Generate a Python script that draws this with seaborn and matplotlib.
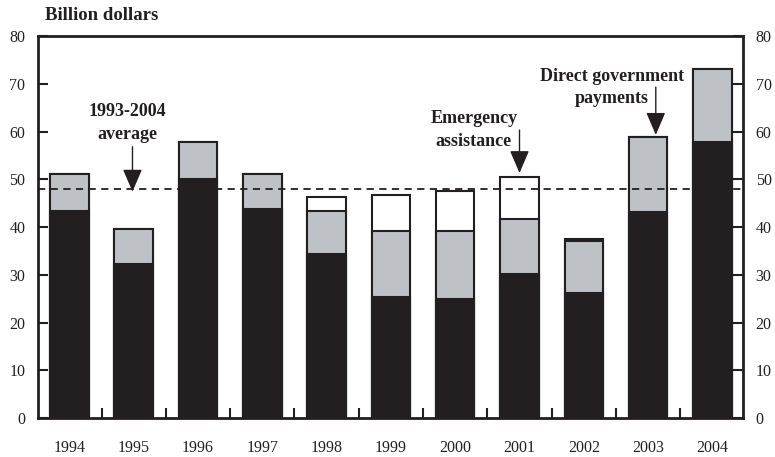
import matplotlib
matplotlib.use("Agg")
import matplotlib.pyplot as plt
import seaborn as sns
import numpy as np
import pandas as pd

years = ["1994", "1995", "1996", "1997", "1998", "1999", "2000", "2001", "2002", "2003", "2004"]
base = [43.4, 32.2, 50.1, 43.8, 34.3, 25.4, 25.0, 30.1, 26.2, 43.1, 57.7]
direct_payments = [7.6, 7.3, 7.6, 7.2, 9.1, 13.8, 14.2, 11.5, 10.8, 15.8, 15.4]
emergency = [0.0, 0.0, 0.0, 0.0, 2.9, 7.6, 8.4, 8.9, 0.5, 0.0, 0.0]
average = 48.0

base_arr = np.array(base)
mid_arr = base_arr + np.array(direct_payments)
top_arr = mid_arr + np.array(emergency)

df = pd.DataFrame({"year": years, "base": base_arr, "mid": mid_arr, "top": top_arr})

sns.set_style("white")
plt.rcParams["font.family"] = ["Liberation Serif", "DejaVu Serif"]

fig = plt.figure(figsize=(7.75, 4.57), dpi=100)
ax = fig.add_axes([0.049, 0.0853, 0.91, 0.8359])

black = "#231f20"
gray = "#bec2c7"
common = dict(order=years, width=0.6, saturation=1, edgecolor=black, linewidth=1.5, ax=ax, errorbar=None)
sns.barplot(data=df, x="year", y="top", color="white", **common)
sns.barplot(data=df, x="year", y="mid", color=gray, **common)
sns.barplot(data=df, x="year", y="base", color=black, **common)

ax.axhline(average, color=black, ls=(0, (4, 3)), lw=1.3, zorder=5)

ax.set_xlim(-0.49, 10.48)
ax.set_ylim(0, 80)
ax.set_xlabel("")
ax.set_ylabel("")

for s in ax.spines.values():
    s.set_linewidth(2)
    s.set_color(black)

ax.set_yticks(range(0, 81, 10))
ax.tick_params(axis="y", which="major", direction="in", length=7, width=1.5,
               left=True, right=True, labelleft=True, labelright=True,
               labelsize=11.5, pad=9, colors=black)
ax.set_xticks(range(len(years)))
ax.set_xticklabels(years)
ax.set_xticks(np.arange(0.5, len(years) - 1, 1.0), minor=True)
ax.tick_params(axis="x", which="major", length=0, labelsize=11.5, pad=16, colors=black)
ax.tick_params(axis="x", which="minor", direction="in", length=7, width=1.5, bottom=True, colors=black)

arrow = dict(arrowstyle="-|>,head_length=1.4,head_width=0.6", color=black, lw=1, mutation_scale=10, shrinkA=0, shrinkB=0)

fs = 13
ax.text(0.9, 64.1, "1993-2004", ha="center", va="center", fontsize=fs, fontweight="bold", color=black)
ax.text(0.9, 59.3, "average", ha="center", va="center", fontsize=fs, fontweight="bold", color=black)
ax.annotate("", xy=(0.98, 47.4), xytext=(0.98, 56.8), arrowprops=arrow)

ax.text(6.29, 62.8, "Emergency", ha="center", va="center", fontsize=fs, fontweight="bold", color=black)
ax.text(6.29, 58.0, "assistance", ha="center", va="center", fontsize=fs, fontweight="bold", color=black)
ax.annotate("", xy=(7.0, 51.3), xytext=(7.0, 60.3), arrowprops=arrow)

ax.text(8.44, 71.6, "Direct government", ha="center", va="center", fontsize=fs, fontweight="bold", color=black)
ax.text(8.44, 67.0, "payments", ha="center", va="center", fontsize=fs, fontweight="bold", color=black)
ax.annotate("", xy=(9.12, 59.3), xytext=(9.12, 69.3), arrowprops=arrow)

fig.text(0.058, 1 - 16 / 457, "Billion dollars", ha="left", va="center", fontsize=13.5, fontweight="bold", color=black)

fig.savefig("out.png", dpi=100)
